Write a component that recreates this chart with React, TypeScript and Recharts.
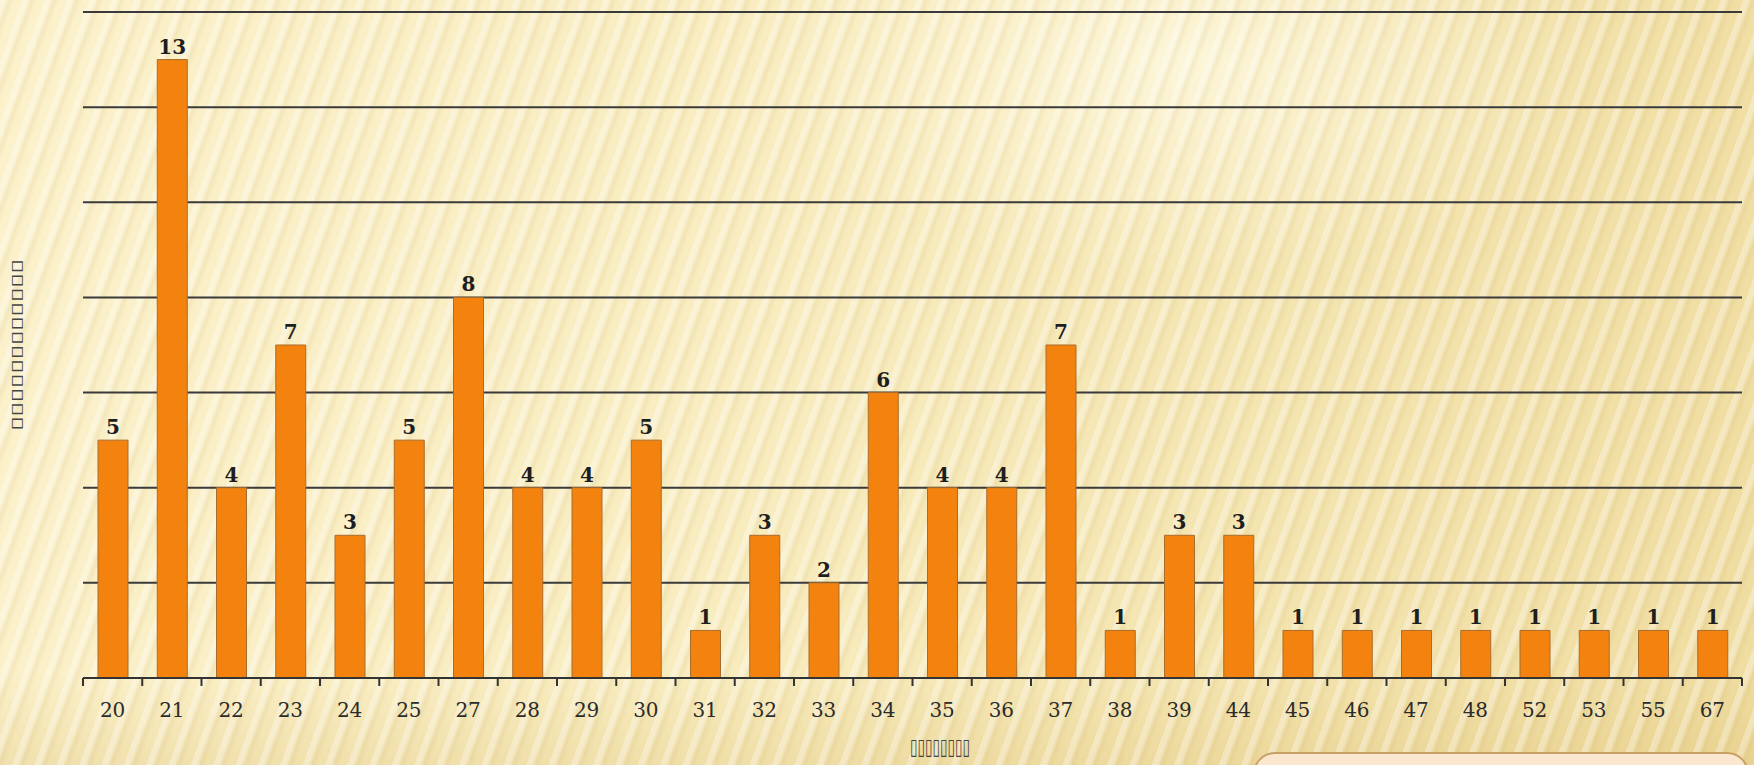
import React from 'react';
import { BarChart, Bar, XAxis, YAxis, CartesianGrid, LabelList } from 'recharts';

const ages = ['20', '21', '22', '23', '24', '25', '27', '28', '29', '30', '31', '32', '33', '34', '35', '36', '37', '38', '39', '44', '45', '46', '47', '48', '52', '53', '55', '67'];
const counts = [5, 13, 4, 7, 3, 5, 8, 4, 4, 5, 1, 3, 2, 6, 4, 4, 7, 1, 3, 3, 1, 1, 1, 1, 1, 1, 1, 1];
const yTicks = [0, 2, 4, 6, 8, 10, 12, 14];

// the axis titles in the source came out as missing-glyph boxes
const xTitle = '▯▯▯▯▯▯▯▯';
const yTitle = '▯▯▯▯▯▯▯▯▯▯▯▯';

const data = ages.map((age, i) => ({ age, count: counts[i] }));

const serif = '"DejaVu Serif", serif';

const AgeTick = (props: any) => {
  const { x, y, payload, index } = props;
  const half = payload?.offset ?? 29.6;
  const axisY = y - 10;
  return (
    <g>
      <line x1={x - half} x2={x - half} y1={axisY} y2={axisY + 8} stroke="#333" strokeWidth={2} />
      {index === ages.length - 1 && (
        <line x1={x + half} x2={x + half} y1={axisY} y2={axisY + 8} stroke="#333" strokeWidth={2} />
      )}
      <text x={x} y={axisY + 39} textAnchor="middle" fontFamily={serif} fontSize={20} fill="#2b2b2b">
        {payload.value}
      </text>
    </g>
  );
};

export default function App() {
  return (
    <div
      style={{
        position: 'absolute',
        left: 0,
        top: 0,
        width: 1754,
        height: 765,
        overflow: 'hidden',
        background: [
          'repeating-linear-gradient(110deg, rgba(255,255,255,0.32) 0px, rgba(255,255,255,0.32) 5px, rgba(190,160,80,0.12) 9px, rgba(255,255,255,0) 14px, rgba(255,255,255,0) 21px)',
          'radial-gradient(ellipse 420px 220px at 1180px 60px, rgba(255,252,232,0.7), rgba(255,252,232,0) 100%)',
          'linear-gradient(to bottom, rgba(0,0,0,0) 88%, rgba(214,180,96,0.25) 100%)',
          'linear-gradient(100deg, #fbf1cb 0%, #f8ecbf 45%, #efdca0 100%)',
        ].join(', '),
      }}
    >
      <BarChart
        width={1754}
        height={765}
        data={data}
        margin={{ top: 12, right: 12, bottom: 57, left: 83 }}
      >
        <CartesianGrid horizontal vertical={false} stroke="#3a3a3a" strokeWidth={2} />
        <YAxis hide domain={[0, 14]} ticks={yTicks} />
        <XAxis
          dataKey="age"
          interval={0}
          axisLine={{ stroke: '#333', strokeWidth: 2 }}
          tickLine={false}
          tickSize={8}
          tickMargin={2}
          tick={<AgeTick />}
        />
        <Bar dataKey="count" barSize={30} fill="#f3820e" stroke="#a86c2c" strokeWidth={1} isAnimationActive={false}>
          <LabelList
            dataKey="count"
            position="top"
            offset={6}
            fontFamily={serif}
            fontSize={20}
            fontWeight="bold"
            fill="#1e1e1e"
          />
        </Bar>
      </BarChart>

      <div
        style={{
          position: 'absolute',
          left: 16,
          top: 345,
          transform: 'translate(-50%, -50%) rotate(-90deg) scale(1, 0.55)',
          fontFamily: '"DejaVu Sans", sans-serif',
          fontSize: 26,
          lineHeight: 1,
          color: '#444',
          whiteSpace: 'nowrap',
        }}
      >
        {yTitle}
      </div>
      <div
        style={{
          position: 'absolute',
          left: 940,
          top: 747,
          transform: 'translate(-50%, -50%) scale(0.62, 1)',
          fontFamily: '"DejaVu Sans", sans-serif',
          fontSize: 22,
          lineHeight: 1,
          color: '#444',
          whiteSpace: 'nowrap',
        }}
      >
        {xTitle}
      </div>

      <div
        style={{
          position: 'absolute',
          left: 1253,
          top: 752,
          width: 492,
          height: 60,
          background: '#fbe7cf',
          border: '2px solid #c9a063',
          borderRadius: 22,
        }}
      />
    </div>
  );
}
